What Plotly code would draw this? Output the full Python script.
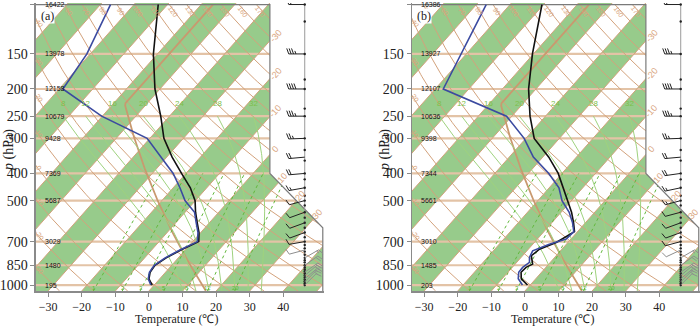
import numpy as np
import plotly.graph_objects as go

# ---------------- data ----------------
PANEL_TAGS = ["(a)", "(b)"]

# panel (a) temperature / dew point profiles
P_A = [1000, 950, 900, 850, 800, 750, 700, 650, 600, 550, 500, 450, 400, 350, 300, 250, 200, 150, 100]
T_A = [-0.6, -3.2, -4.6, -5.0, -3.6, -1.3, 1.8, -0.5, -3.6, -6.9, -10.1, -14.9, -21.3, -28.4, -35.8, -42.6, -51.5, -61.2, -72.8]
TD_A = [-1.0, -3.4, -4.8, -5.2, -3.9, -1.6, 1.4, -0.8, -3.9, -7.2, -13.1, -18.0, -23.8, -31.6, -40.8, -60.2, -78.9, -81.0, -87.0]

# panel (b)
P_TB = [1000, 950, 900, 865, 842, 786, 745, 705, 645, 600, 550, 500, 450, 400, 350, 300, 250, 200, 150, 100]
T_B = [-0.8, -4.3, -6.1, -5.9, -4.8, -7.4, -6.7, -3.5, -0.9, -3.5, -6.9, -11.1, -15.7, -21.1, -28.2, -37.5, -44.6, -52.2, -60.3, -70.5]
P_DB = [1000, 950, 900, 865, 830, 797, 755, 715, 686, 645, 600, 550, 500, 450, 400, 350, 300, 250, 200, 100]
TD_B = [-2.3, -5.2, -6.8, -6.9, -6.2, -7.5, -8.3, -5.1, -1.4, -1.1, -3.8, -7.6, -12.8, -17.1, -23.9, -32.8, -40.5, -51.6, -77.6, -87.1]

# geopotential heights at mandatory levels
P_MAND = [100, 150, 200, 250, 300, 400, 500, 700, 850, 1000]
HGT_A = [16422, 13978, 12158, 10679, 9428, 7369, 5687, 3029, 1480, 195]
HGT_B = [16386, 13927, 12107, 10636, 9398, 7344, 5661, 3010, 1485, 203]

# winds: pressure, direction (deg), speed (kt), grey flag
WP = [100, 150, 200, 250, 300, 350, 400, 450, 500, 550, 600, 650, 700, 750, 800, 850, 900, 925, 950, 975, 1000]
WD_A = [270, 270, 270, 270, 268, 265, 265, 260, 255, 250, 250, 250, 260, 255, 60, 55, 55, 50, 50, 45, 45]
WS_A = [15, 35, 40, 35, 25, 20, 20, 15, 10, 10, 10, 10, 10, 10, 15, 20, 20, 20, 15, 15, 10]
WD_B = [270, 270, 270, 270, 268, 265, 262, 258, 255, 255, 250, 250, 255, 245, 60, 55, 55, 50, 50, 45, 45]
WS_B = [15, 35, 40, 35, 25, 20, 20, 15, 15, 10, 10, 10, 10, 10, 15, 20, 20, 20, 15, 15, 10]
W_GREY = [False] * 13 + [True] * 8

# sounding levels marked on the wind column
DOT_P = [100, 115, 150, 185, 200, 235, 250, 300, 330, 360, 400, 420, 450, 480, 500, 520, 550, 575, 600, 625,
         650, 675, 700, 720, 740, 760, 780, 800, 815, 830, 850, 865, 880, 895, 910, 925, 940, 955, 970, 985, 1000]

X_TICKS = [-30, -20, -10, 0, 10, 20, 30, 40]
THETA_LINES = list(range(-40, 190, 10))
MOIST_LINES = [8, 12, 16, 20, 24, 28, 32]
MIXR_LINES = [1, 2, 3, 5, 8, 12, 20]

# ---------------- skew-T coordinate helpers ----------------
def sy(p):
    return 132.182 - 44.061 * np.log10(np.asarray(p, float))


def sx(t, y):
    return 0.54 * np.asarray(t, float) + 0.90692 * np.asarray(y, float)


Y_BOT = float(sy(1050.0))
Y_TOP = float(sy(100.0))
Y_400 = float(sy(400.0))
X_L, X_R, X_MID, Y_NOTCH = -19.0, 27.1, 18.6, 9.0
X_RANGE = [-19.0, 27.3]
Y_RANGE = [Y_BOT, 44.30]
PX_X = 288.0 / (X_RANGE[1] - X_RANGE[0])
PX_Y = 288.0 / (Y_RANGE[1] - Y_RANGE[0])
X_WIND = 24.2

C_GREEN = "#97cb8b"
C_ISOBAR = "#e3c3a6"
C_BROWN = "#d3a27c"
C_MOIST = "#9fd27e"
C_MIX = "#62b83c"
C_LBL = "#d9a680"
C_T = "#111111"
C_TD = "#3b4aa0"


def moist_curve(t0c, p_grid):
    Rd, cp, Lv, eps = 287.04, 1005.7, 2.501e6, 0.622

    def f(T, p):
        es = 6.112 * np.exp(17.67 * (T - 273.15) / (T - 29.65))
        rs = eps * es / (p - es)
        return (Rd * T + Lv * rs) / (p * (cp + Lv * Lv * rs * eps / (Rd * T * T)))

    out = {}
    for direction in (-1, 1):
        T, p = t0c + 273.15, 1000.0
        dp = 2.0 * direction
        out[1000.0] = T
        while (direction < 0 and p > p_grid.min() - 1e-6) or (direction > 0 and p < p_grid.max() + 1e-6):
            k1 = f(T, p)
            k2 = f(T + 0.5 * dp * k1, p + 0.5 * dp)
            k3 = f(T + 0.5 * dp * k2, p + 0.5 * dp)
            k4 = f(T + dp * k3, p + dp)
            T += dp * (k1 + 2 * k2 + 2 * k3 + k4) / 6.0
            p += dp
            out[round(p, 3)] = T
    ps = np.array(sorted(out.keys()))
    ts = np.array([out[k] for k in ps]) - 273.15
    return np.interp(p_grid, ps, ts)


def td_from_w(w, p):
    e = w * p / (622.0 + w)
    a = np.log(e / 6.112)
    return 243.5 * a / (17.67 - a)


def seg_join(list_of_xy):
    xs, ys = [], []
    for x, y in list_of_xy:
        xs += list(np.asarray(x, float)) + [None]
        ys += list(np.asarray(y, float)) + [None]
    return xs, ys


fig = go.Figure()
annotations = []
DOMAINS = [[0.0514, 0.4629], [0.5886, 1.0]]


def add(tr, i):
    tr.update(xaxis="x" if i == 0 else "x2", yaxis="y" if i == 0 else "y2", showlegend=False, hoverinfo="skip")
    fig.add_trace(tr)


def ann(i, x, y, text, **kw):
    d = dict(x=x, y=y, text=text, showarrow=False, xref="x" if i == 0 else "x2", yref="y" if i == 0 else "y2")
    d.update(kw)
    annotations.append(d)


def barb_geom(x0, y0, spd, ddeg):
    L, fl = 16.0, 5.5
    d = np.radians(ddeg)
    vx, vy = np.sin(d), np.cos(d)
    qx, qy = vy, -vx

    def P(a, b):
        return (x0 + (vx * a + qx * b) / PX_X, y0 + (vy * a + qy * b) / PX_Y)

    lines, tris = [[P(0, 0), P(L, 0)]], []
    n = int(round(spd / 5.0)) * 5
    pos = L
    while n >= 50:
        tris.append([P(pos, 0), P(pos + 1.2, fl), P(pos - 3.5, 0)])
        pos -= 4.5
        n -= 50
    while n >= 10:
        lines.append([P(pos, 0), P(pos + 2.0, fl)])
        pos -= 2.4
        n -= 10
    if n >= 5:
        if pos == L:
            pos -= 2.4
        lines.append([P(pos, 0), P(pos + 1.1, fl * 0.55)])
    return lines, tris


panels = [
    (P_A, T_A, P_A, TD_A, HGT_A, WD_A, WS_A),
    (P_TB, T_B, P_DB, TD_B, HGT_B, WD_B, WS_B),
]

p_fine = np.logspace(np.log10(1050), np.log10(100), 120)

for i, (pt, tt, pd_, tdd, hgt, wd, ws) in enumerate(panels):
    # green bands
    xs, ys = [], []
    yb, yt = Y_BOT - 1, Y_TOP + 1
    for t1 in range(-140, 60, 20):
        xs += [float(sx(t1, yb)), float(sx(t1 + 10, yb)), float(sx(t1 + 10, yt)), float(sx(t1, yt)), float(sx(t1, yb)), None]
        ys += [yb, yb, yt, yt, yb, None]
    add(go.Scatter(x=xs, y=ys, mode="lines", fill="toself", fillcolor=C_GREEN, line=dict(width=0, color="rgba(0,0,0,0)")), i)

    # isobars
    segs = [([X_L, X_R], [float(sy(p))] * 2) for p in P_MAND[1:]]
    xs, ys = seg_join(segs)
    add(go.Scatter(x=xs, y=ys, mode="lines", line=dict(color=C_ISOBAR, width=2.2)), i)

    # isotherms
    segs = [([float(sx(t, yb)), float(sx(t, yt))], [yb, yt]) for t in range(-140, 60, 10)]
    xs, ys = seg_join(segs)
    add(go.Scatter(x=xs, y=ys, mode="lines", line=dict(color=C_BROWN, width=1)), i)

    # dry adiabats
    segs = []
    for th in THETA_LINES:
        tk = (th + 273.15) * (p_fine / 1000.0) ** 0.2857 - 273.15
        yy = sy(p_fine)
        segs.append((sx(tk, yy), yy))
    xs, ys = seg_join(segs)
    add(go.Scatter(x=xs, y=ys, mode="lines", line=dict(color=C_BROWN, width=1)), i)

    # standard atmosphere
    t_std = np.where(p_fine > 226.32, 288.15 * (p_fine / 1013.25) ** 0.190263 - 273.15, -56.5)
    add(go.Scatter(x=sx(t_std, sy(p_fine)), y=sy(p_fine), mode="lines", line=dict(color="#c9996f", width=1.8)), i)

    # moist adiabats
    p_m = np.linspace(1050, 250, 161)
    segs = []
    for t0 in MOIST_LINES:
        tm = moist_curve(t0, p_m)
        segs.append((sx(tm, sy(p_m)), sy(p_m)))
        ann(i, float(sx(tm[-1], sy(250.0))), float(sy(226.0)), str(t0),
            font=dict(family="Liberation Sans", size=8, color="#7cc04a"))
    xs, ys = seg_join(segs)
    add(go.Scatter(x=xs, y=ys, mode="lines", line=dict(color=C_MOIST, width=1)), i)

    # mixing ratio lines
    p_w = np.linspace(1050, 400, 40)
    segs = []
    for w in MIXR_LINES:
        tw = td_from_w(w, p_w)
        segs.append((sx(tw, sy(p_w)), sy(p_w)))
        ann(i, float(sx(td_from_w(w, 1040.0), sy(1040.0))), float(sy(1040.0)) + 0.3, str(w),
            font=dict(family="Liberation Sans", size=6, color=C_MIX))
    xs, ys = seg_join(segs)
    add(go.Scatter(x=xs, y=ys, mode="lines", line=dict(color=C_MIX, width=1, dash="dot")), i)

    # white mask outside the diagram outline
    add(go.Scatter(x=[X_MID, 30, 30, X_R, X_R, X_MID, X_MID], y=[50, 50, -2, -2, Y_NOTCH, Y_400, 50],
                   mode="lines", fill="toself", fillcolor="white", line=dict(width=0, color="rgba(0,0,0,0)")), i)
    # outline
    add(go.Scatter(x=[X_L, X_MID, X_MID, X_R, X_R], y=[Y_TOP, Y_TOP, Y_400, Y_NOTCH, Y_BOT],
                   mode="lines", line=dict(color="#7a7a7a", width=1.2)), i)

    # isotherm labels on the right edge
    for t in [-30, -20, -10, 0]:
        yc = (X_MID - 0.54 * t) / 0.90692
        ann(i, X_MID + 0.9, yc + 0.8, str(t), textangle=-48, font=dict(family="Liberation Sans", size=9, color=C_LBL))
    for t in [10, 20, 30]:
        tpar = (0.54 * t + 0.90692 * Y_400 - X_MID) / (X_R - X_MID + 0.90692 * (Y_400 - Y_NOTCH))
        xc = X_MID + (X_R - X_MID) * tpar
        yc = Y_400 - (Y_400 - Y_NOTCH) * tpar
        ann(i, xc + 0.55, yc + 0.75, str(t), textangle=-48, font=dict(family="Liberation Sans", size=9, color=C_LBL))

    # dry adiabat labels
    for th in THETA_LINES:
        tk = (th + 273.15) * (p_fine / 1000.0) ** 0.2857 - 273.15
        xx = sx(tk, sy(p_fine))
        yy = sy(p_fine)
        if xx[-1] > X_L + 1.5 and xx[-1] < X_MID - 0.5:
            ann(i, float(xx[-1]) + 0.6, Y_TOP - 1.1, str(th), textangle=55, font=dict(family="Liberation Sans", size=7, color=C_LBL))
        elif xx[-1] <= X_L + 1.5:
            k = np.argmax(xx < X_L + 0.5)
            if k > 0 and yy[k] < Y_TOP - 3:
                ann(i, X_L + 0.55, float(yy[k]), str(th), textangle=55, font=dict(family="Liberation Sans", size=7, color=C_LBL))

    # wind column
    add(go.Scatter(x=[X_WIND, X_WIND], y=[Y_TOP, Y_BOT + 0.6], mode="lines", line=dict(color="#9a9a9a", width=1)), i)
    add(go.Scatter(x=[X_WIND] * len(DOT_P), y=sy(DOT_P), mode="markers", marker=dict(size=2.4, color="#222")), i)

    # profiles
    add(go.Scatter(x=sx(tt, sy(pt)), y=sy(pt), mode="lines", line=dict(color=C_T, width=1.6)), i)
    add(go.Scatter(x=sx(tdd, sy(pd_)), y=sy(pd_), mode="lines", line=dict(color=C_TD, width=1.6)), i)

    # wind barbs (black above, grey in the low levels)
    for grey in (False, True):
        col = "#8e8e8e" if grey else "#222222"
        lines_all, tris_all = [], []
        for p, d, s, g in zip(WP, wd, ws, W_GREY):
            if g != grey:
                continue
            l, t = barb_geom(X_WIND, float(sy(p)), s, d)
            lines_all += l
            tris_all += t
        xs, ys = [], []
        for seg in lines_all:
            xs += [seg[0][0], seg[1][0], None]
            ys += [seg[0][1], seg[1][1], None]
        add(go.Scatter(x=xs, y=ys, mode="lines", line=dict(color=col, width=1)), i)
        if tris_all:
            xs, ys = [], []
            for tr in tris_all:
                xs += [tr[0][0], tr[1][0], tr[2][0], tr[0][0], None]
                ys += [tr[0][1], tr[1][1], tr[2][1], tr[0][1], None]
            add(go.Scatter(x=xs, y=ys, mode="lines", fill="toself", fillcolor=col, line=dict(color=col, width=0.8)), i)

    # height labels
    for p, h in zip(P_MAND, hgt):
        ann(i, X_L + 1.2, float(sy(p)), str(h), xanchor="left", font=dict(family="Liberation Sans", size=7, color="#111"))

    # panel tag
    ann(i, X_L + 0.7, Y_TOP - 1.8, PANEL_TAGS[i], xanchor="left", bgcolor="white",
        font=dict(family="Liberation Serif", size=12, color="#222"), borderpad=0)

# axis titles
for i in range(2):
    off = 376.0 / 700.0 * i
    annotations.append(dict(x=0.013 + off, y=0.49, xref="paper", yref="paper", showarrow=False, textangle=-90,
                            xanchor="center", yanchor="middle",
                            text="<i>p</i> (hPa)", font=dict(family="Liberation Serif", size=14, color="#222")))
    annotations.append(dict(x=0.252 + off, y=-0.0972, xref="paper", yref="paper", showarrow=False,
                            xanchor="center", yanchor="middle",
                            text="Temperature (\u2103)", font=dict(family="Liberation Serif", size=12, color="#222")))

def xaxis_cfg(dom):
    return dict(domain=dom, range=X_RANGE, tickvals=[float(sx(t, Y_BOT)) for t in X_TICKS],
                ticktext=[str(t).replace("-", "\u2212") for t in X_TICKS], showline=True, linecolor="#8a8a8a",
                linewidth=1.5, ticks="outside", ticklen=4, tickcolor="#8a8a8a", showgrid=False, zeroline=False,
                ticklabelstandoff=0,
                tickfont=dict(family="Liberation Serif", size=12, color="#222"), fixedrange=True)

def yaxis_cfg(anchor):
    return dict(domain=[0, 1], range=Y_RANGE, tickvals=[float(sy(p)) for p in P_MAND],
                ticktext=[str(p) for p in P_MAND], showline=True, linecolor="#8a8a8a", linewidth=1.5,
                ticks="outside", ticklen=4, tickcolor="#8a8a8a", showgrid=False, zeroline=False, anchor=anchor,
                tickfont=dict(family="Liberation Serif", size=14, color="#222"), fixedrange=True)

fig.update_layout(
    width=700, height=326, margin=dict(l=0, r=0, t=3, b=35),
    plot_bgcolor="white", paper_bgcolor="white",
    xaxis=xaxis_cfg(DOMAINS[0]), yaxis=yaxis_cfg("x"),
    xaxis2=dict(xaxis_cfg(DOMAINS[1]), anchor="y2"), yaxis2=yaxis_cfg("x2"),
    annotations=annotations, showlegend=False,
)
fig.update_layout(xaxis=dict(anchor="y"))
fig.write_html("out.html", config={"displayModeBar": False, "staticPlot": True},
               post_script="document.body.style.margin='0px';document.body.style.padding='0px';document.body.style.overflow='hidden';")
